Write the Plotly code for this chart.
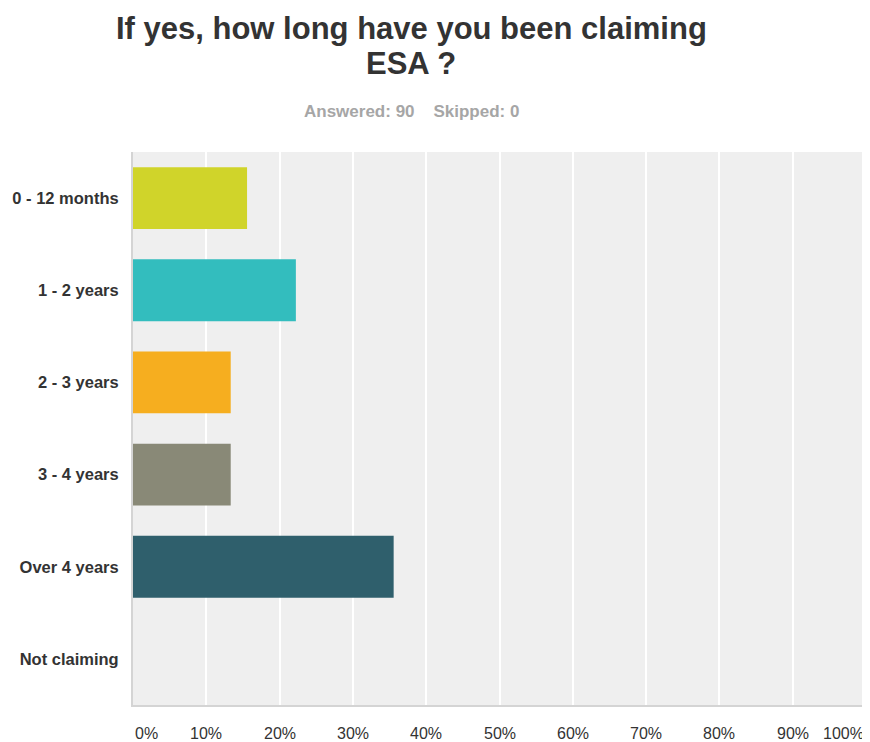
import plotly.graph_objects as go

categories = ["0 - 12 months", "1 - 2 years", "2 - 3 years", "3 - 4 years", "Over 4 years", "Not claiming"]
percent_values = [15.56, 22.22, 13.33, 13.33, 35.56, 0.0]
bar_colors = ["#d0d42a", "#33bdbe", "#f6ae1f", "#898977", "#2f5f6c", "#cccccc"]
tick_values = [0, 10, 20, 30, 40, 50, 60, 70, 80, 90, 100]
tick_labels = ["0%", "10%", "20%", "30%", "40%", "50%", "60%", "70%", "80%", "90%", "100%"]
title_lines = ["If yes, how long have you been claiming", "ESA ?"]
subtitle = "Answered: 90&nbsp;&nbsp;&nbsp;&nbsp;Skipped: 0"

FONT = "Liberation Sans, Arial, sans-serif"

# page body has an 8px margin, so the figure is sized/offset accordingly
W, H = 862, 734
ML, MR, MT, MB = 123, 4, 144, 37

fig = go.Figure(go.Bar(
    y=categories,
    x=percent_values,
    orientation="h",
    marker=dict(color=bar_colors, line=dict(width=0)),
    hoverinfo="skip",
))

fig.update_layout(
    width=W, height=H,
    margin=dict(l=ML, r=MR, t=MT, b=MB),
    paper_bgcolor="white",
    plot_bgcolor="#efefef",
    bargap=0.33,
    showlegend=False,
    font=dict(family=FONT, color="#333333"),
)

fig.update_xaxes(
    range=[0, 100],
    tickvals=tick_values,
    showticklabels=False,
    showgrid=True, gridcolor="#ffffff", gridwidth=1.5,
    zeroline=False,
    showline=True, linecolor="#d4d4d4", linewidth=2,
    fixedrange=True,
)
fig.update_yaxes(
    autorange="reversed",
    showgrid=False,
    zeroline=False,
    showline=True, linecolor="#d4d4d4", linewidth=2,
    ticks="outside", ticklen=9, tickcolor="rgba(0,0,0,0)",
    tickfont=dict(family=FONT, size=16.5, color="#333333", weight="bold"),
    fixedrange=True,
)

annotations = []
for v, lab in zip(tick_values, tick_labels):
    anchor = "center"
    if v == tick_values[0]:
        anchor = "left"
    elif v == tick_values[-1]:
        anchor = "right"
    annotations.append(dict(
        x=v, y=0, xref="x", yref="paper", yanchor="middle", yshift=-28,
        xanchor=anchor, text=lab, showarrow=False,
        font=dict(family=FONT, size=16, color="#333333"),
    ))

plot_w = W - ML - MR
title_x = (402 - ML) / plot_w
for line, shift in zip(title_lines, [124, 89]):
    annotations.append(dict(
        x=title_x, y=1, xref="paper", yref="paper", yanchor="middle", yshift=shift,
        xanchor="center", text=line, showarrow=False,
        font=dict(family=FONT, size=31, color="#333333", weight="bold"),
    ))
annotations.append(dict(
    x=title_x, y=1, xref="paper", yref="paper", yanchor="middle", yshift=41,
    xanchor="center", text=subtitle, showarrow=False,
    font=dict(family=FONT, size=17, color="#a6a6a6", weight="bold"),
))
fig.update_layout(annotations=annotations)

fig.write_html("out.html")
